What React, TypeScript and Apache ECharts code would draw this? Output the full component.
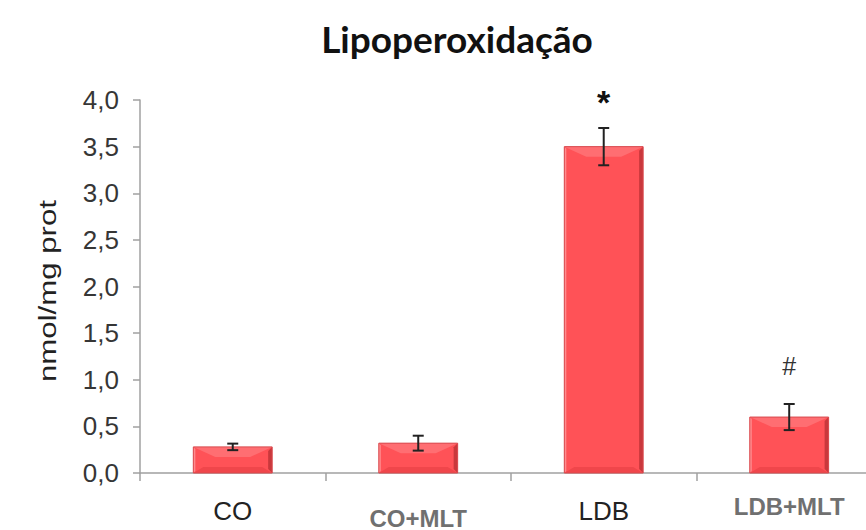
import React, { useEffect, useRef } from "react";
import * as echarts from "echarts";

const categories = ["CO", "CO+MLT", "LDB", "LDB+MLT"];
const means = [0.28, 0.32, 3.5, 0.6];
const errors = [0.035, 0.08, 0.2, 0.14];
const marks = ["", "", "*", "#"];
const yTicks = { min: 0, max: 4, interval: 0.5 };
const yAxisName = "nmol/mg prot";
const titleText = "Lipoperoxidação";

const labelStyleKeys = ["reg", "low", "reg", "high"];
// the original chart is cropped at the right: the visible x range ends before the last category's edge
const xMin = -0.5;
const xMax = 3.414;

export default function App() {
  const ref = useRef<HTMLDivElement>(null);
  useEffect(() => {
    if (!ref.current) return;
    const chart = echarts.init(ref.current, null, { renderer: "svg" });
    const idxs = categories.map((c, i) => i);
    const barData = categories.map((c, i) => [i, means[i]]);
    const errData = categories.map((c, i) => [i, means[i], errors[i]]);
    const boundaries = idxs.map((i) => i - 0.5);
    const option: any = {
      animation: false,
      backgroundColor: "#ffffff",
      graphic: [
        {
          type: "text",
          x: 457,
          y: 38,
          style: {
            text: titleText,
            font: "bold 37px Lato",
            fill: "#111111",
            textAlign: "center",
            textVerticalAlign: "middle",
          },
        },
        {
          type: "text",
          x: 48,
          y: 291,
          rotation: Math.PI / 2,
          scaleX: 1.3,
          style: {
            text: yAxisName,
            font: "24px Liberation Sans",
            fill: "#222222",
            textAlign: "center",
            textVerticalAlign: "middle",
          },
        },
      ],
      grid: { left: 140, top: 100, bottom: 50, right: 0, containLabel: false },
      xAxis: {
        type: "value",
        min: xMin,
        max: xMax,
        splitLine: { show: false },
        axisLine: { show: true, onZero: false, lineStyle: { color: "#a0a0a0", width: 1.5 } },
        axisTick: { show: true, length: 8, customValues: boundaries, lineStyle: { color: "#a0a0a0", width: 1.5 } },
        axisLabel: {
          margin: 19,
          customValues: idxs,
          showMinLabel: true,
          showMaxLabel: true,
          formatter: (v: number) => {
            const i = Math.round(v);
            return `{${labelStyleKeys[i]}|${categories[i]}}`;
          },
          rich: {
            reg: { fontFamily: "Liberation Sans", fontSize: 26, color: "#222222", padding: [6, 0, 0, 0] },
            low: { fontFamily: "Liberation Sans", fontSize: 24, fontWeight: "bold", color: "#707070", padding: [14, 0, 0, 0] },
            high: { fontFamily: "Liberation Sans", fontSize: 24, fontWeight: "bold", color: "#707070", padding: [2, 0, 0, 0] },
          },
        },
      },
      yAxis: {
        type: "value",
        min: yTicks.min,
        max: yTicks.max,
        interval: yTicks.interval,
        axisLine: { show: true, onZero: false, lineStyle: { color: "#a0a0a0", width: 1.5 } },
        axisTick: { show: true, length: 7, lineStyle: { color: "#a0a0a0", width: 1.5 } },
        splitLine: { show: false },
        axisLabel: {
          margin: 21,
          fontFamily: "Liberation Sans",
          fontSize: 26,
          color: "#363636",
          formatter: (v: number) => v.toFixed(1).replace(".", ","),
        },
      },
      series: [
        {
          type: "custom",
          data: barData,
          z: 2,
          renderItem: (params: any, api: any) => {
            const idx = api.value(0);
            const v = api.value(1);
            const top = api.coord([idx, v]);
            const base = api.coord([idx, 0]);
            const bw = api.size([1, 0])[0] * 0.425;
            const x0 = top[0] - bw / 2;
            const x1 = top[0] + bw / 2;
            const y0 = top[1];
            const y1 = base[1];
            const b = Math.min(10, (y1 - y0) / 2.6);
            const s = Math.min(4, bw / 10);
            return {
              type: "group",
              children: [
                { type: "rect", shape: { x: x0, y: y0, width: bw, height: y1 - y0 }, style: { fill: "#ff5257" } },
                {
                  type: "polygon",
                  shape: { points: [[x0, y0], [x1, y0], [x1 - b * 2.2, y0 + b], [x0 + b * 2.2, y0 + b]] },
                  style: { fill: "#ff6e72" },
                },
                {
                  type: "polygon",
                  shape: { points: [[x0, y1], [x1, y1], [x1 - b, y1 - b * 0.6], [x0 + b, y1 - b * 0.6]] },
                  style: { fill: "#f0464b" },
                },
                {
                  type: "polygon",
                  shape: { points: [[x1, y0], [x1, y1], [x1 - s, y1 - s], [x1 - s, y0 + s]] },
                  style: { fill: "#c9383c" },
                },
                {
                  type: "polygon",
                  shape: { points: [[x0, y0], [x0, y1], [x0 + 2, y1 - 2], [x0 + 2, y0 + 2]] },
                  style: { fill: "#ff8a8d" },
                },
                {
                  type: "rect",
                  shape: { x: x0, y: y0, width: bw, height: y1 - y0 },
                  style: { fill: "none", stroke: "#d84a4e", lineWidth: 1 },
                },
              ],
            };
          },
        },
        {
          type: "custom",
          data: errData,
          z: 3,
          renderItem: (params: any, api: any) => {
            const idx = api.value(0);
            const m = api.value(1);
            const e = api.value(2);
            const hi = api.coord([idx, m + e]);
            const lo = api.coord([idx, m - e]);
            const cx = hi[0];
            const cap = 5.5;
            const mk = marks[params.dataIndex];
            const children: any[] = [
              { type: "line", shape: { x1: cx, y1: hi[1], x2: cx, y2: lo[1] }, style: { stroke: "#222222", lineWidth: 2 } },
              { type: "line", shape: { x1: cx - cap, y1: hi[1], x2: cx + cap, y2: hi[1] }, style: { stroke: "#222222", lineWidth: 2 } },
              { type: "line", shape: { x1: cx - cap, y1: lo[1], x2: cx + cap, y2: lo[1] }, style: { stroke: "#222222", lineWidth: 2 } },
            ];
            if (mk) {
              const isStar = mk === "*";
              children.push({
                type: "text",
                x: cx,
                y: hi[1] - (isStar ? 26 : 38),
                style: {
                  text: mk,
                  font: isStar ? "bold 34px Liberation Sans" : "25px Liberation Sans",
                  fill: isStar ? "#111111" : "#333333",
                  textAlign: "center",
                  textVerticalAlign: "middle",
                },
              });
            }
            return { type: "group", children };
          },
        },
      ],
    };
    chart.setOption(option);
    return () => chart.dispose();
  }, []);
  return <div ref={ref} style={{ width: 866, height: 530, position: "fixed", left: 0, top: 0, overflow: "hidden" }} />;
}
